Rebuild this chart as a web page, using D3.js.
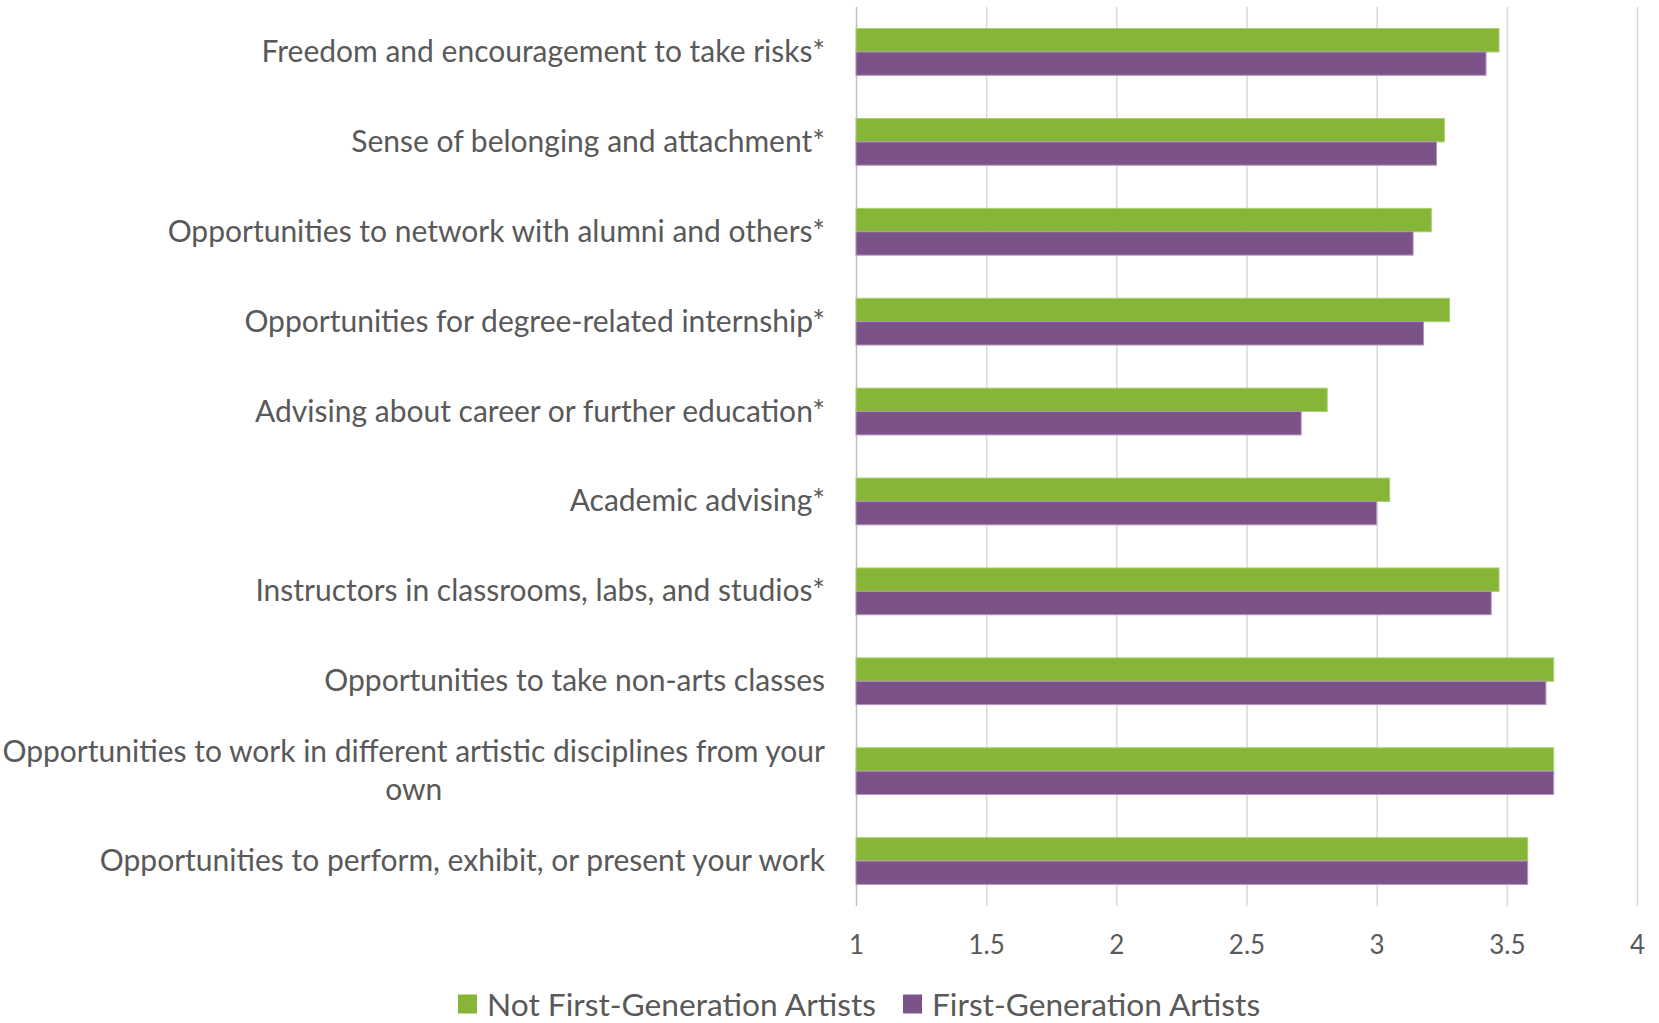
<!DOCTYPE html>
<html>
<head>
<meta charset="utf-8">
<script src="https://cdn.jsdelivr.net/npm/d3@7"></script>
<style>
  body { margin: 0; background: #fff; }
  text { font-family: Lato, "Open Sans", sans-serif; fill: #595959; }
</style>
</head>
<body>
<div id="chart"></div>
<script>
// categories, top to bottom as in the picture
var categories = [
  "Freedom and encouragement to take risks*",
  "Sense of belonging and attachment*",
  "Opportunities to network with alumni and others*",
  "Opportunities for degree-related internship*",
  "Advising about career or further education*",
  "Academic advising*",
  "Instructors in classrooms, labs, and studios*",
  "Opportunities to take non-arts classes",
  "Opportunities to work in different artistic disciplines from your own",
  "Opportunities to perform, exhibit, or present your work"
];

var seriesNames = ["Not First-Generation Artists", "First-Generation Artists"];
var seriesColors = ["#86b537", "#7b5389"];
var seriesStroke = ["#a9cf6e", "#b493c4"];

var notFirstGen = [3.47, 3.26, 3.21, 3.28, 2.81, 3.05, 3.47, 3.68, 3.68, 3.58];
var firstGen    = [3.42, 3.23, 3.14, 3.18, 2.71, 3.00, 3.44, 3.65, 3.68, 3.58];

var xTicks = [1, 1.5, 2, 2.5, 3, 3.5, 4];

// set the dimensions
var W = 1659, H = 1023;
var margin = {top: 7, right: 22, bottom: 117, left: 856},
    width = W - margin.left - margin.right,
    height = H - margin.top - margin.bottom;

var svg = d3.select("#chart")
  .append("svg")
    .attr("width", W)
    .attr("height", H);

var g = svg.append("g")
    .attr("transform", "translate(" + margin.left + "," + margin.top + ")");

var x = d3.scaleLinear()
  .domain([1, 4])
  .range([0, width]);

var y = d3.scaleBand()
  .domain(categories)
  .range([0, height])
  .paddingInner(0.48)
  .paddingOuter(0.24);

var ySub = d3.scaleBand()
  .domain([0, 1])
  .range([0, y.bandwidth()]);

// gridlines
var grid = g.append("g")
  .attr("transform", "translate(0," + height + ")")
  .call(d3.axisBottom(x).tickValues(xTicks).tickSize(-height).tickFormat(""));
grid.select(".domain").remove();
grid.selectAll(".tick line")
  .attr("stroke", function(d) { return d === 1 ? "#bfbfbf" : "#d9d9d9"; })
  .attr("stroke-width", 1.5);

// tick labels
var xAxis = g.append("g")
  .attr("transform", "translate(0," + height + ")")
  .call(d3.axisBottom(x).tickValues(xTicks).tickSize(0).tickPadding(30).tickFormat(d3.format("")));
xAxis.select(".domain").remove();
xAxis.selectAll("text")
  .style("font-size", "26px")
  .style("fill", "#595959");

// bars
var rows = categories.map(function(c, i) {
  return {cat: c, vals: [notFirstGen[i], firstGen[i]]};
});

var groups = g.selectAll(".grp")
  .data(rows)
  .enter()
  .append("g")
    .attr("class", "grp")
    .attr("transform", function(d) { return "translate(0," + y(d.cat) + ")"; });

groups.selectAll("rect")
  .data(function(d) { return d.vals.map(function(v, k) { return {v: v, k: k}; }); })
  .enter()
  .append("rect")
    .attr("x", x(1))
    .attr("y", function(d) { return ySub(d.k); })
    .attr("width", function(d) { return x(d.v) - x(1); })
    .attr("height", ySub.bandwidth())
    .attr("fill", function(d) { return seriesColors[d.k]; })
    .attr("stroke", function(d) { return seriesStroke[d.k]; })
    .attr("stroke-width", 1);

// category labels, wrapped and centred like the original
var labelRight = margin.left - 31;
var labelMax = 840;
var lineH = 38;

var labels = svg.append("g").selectAll("text")
  .data(categories)
  .enter()
  .append("text")
    .style("font-size", "30px")
    .attr("dominant-baseline", "central");

labels.each(function(c) {
  var t = d3.select(this);
  var words = c.split(" "), lines = [], line = [];
  var tmp = t.append("tspan");
  words.forEach(function(w) {
    line.push(w);
    tmp.text(line.join(" "));
    if (tmp.node().getComputedTextLength() > labelMax && line.length > 1) {
      line.pop();
      lines.push(line.join(" "));
      line = [w];
    }
  });
  lines.push(line.join(" "));
  tmp.remove();

  var cy = margin.top + y(c) + y.bandwidth() / 2 - 2;
  var spans = lines.map(function(l, i) {
    return t.append("tspan").text(l)
      .attr("y", cy + (i - (lines.length - 1) / 2) * lineH);
  });
  var w0 = spans[0].node().getComputedTextLength();
  var mid = labelRight - w0 / 2;
  spans.forEach(function(s) {
    s.attr("x", lines.length > 1 ? mid : labelRight)
     .attr("text-anchor", lines.length > 1 ? "middle" : "end");
  });
});

// legend
var legend = svg.append("g");
var legY = 1004;
var lx = 458;
seriesNames.forEach(function(name, k) {
  legend.append("rect")
    .attr("x", lx).attr("y", legY - 9.5)
    .attr("width", 19).attr("height", 19)
    .attr("fill", seriesColors[k]);
  var txt = legend.append("text")
    .attr("x", lx + 29).attr("y", legY)
    .attr("dominant-baseline", "central")
    .style("font-size", "31.7px")
    .text(name);
  lx = lx + 29 + txt.node().getComputedTextLength() + 27;
});
</script>
</body>
</html>
